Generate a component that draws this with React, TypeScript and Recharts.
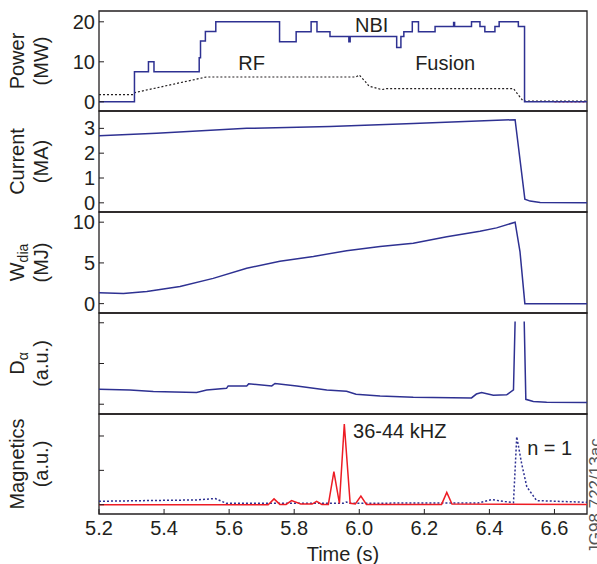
import { LineChart, Line, XAxis, YAxis, ReferenceArea, ReferenceDot } from 'recharts'

const FONT = '"Liberation Sans", Arial, Helvetica, sans-serif'
const INK = '#231f20'
const NAVY = '#2e3192'
const RED = '#ed1c24'

// time axis (s)
const timeTicks = [5.2, 5.4, 5.6, 5.8, 6.0, 6.2, 6.4, 6.6]
const timeDomain: [number, number] = [5.2, 6.7]

// Power panel (MW)
const nbiT = [5.2, 5.309, 5.352, 5.369, 5.508, 5.512, 5.527, 5.559, 5.755, 5.806, 5.852, 5.87, 5.91, 5.968, 5.972, 6.115, 6.128, 6.137, 6.163, 6.182, 6.233, 6.29, 6.293, 6.345, 6.371, 6.386, 6.417, 6.43, 6.489, 6.508, 6.7]
const nbiP = [0, 7.5, 10, 7.5, 11, 15.2, 17.6, 20, 15, 17.5, 20, 17.5, 16.3, 15, 16.3, 13.6, 16.3, 17.5, 20, 17.5, 18.8, 19.8, 18.8, 20, 18.8, 17.5, 18.8, 20, 18.8, 0, 0]
const rfT = [5.2, 5.305, 5.31, 5.53, 5.99, 6.0, 6.02, 6.03, 6.069, 6.084, 6.474, 6.49, 6.504, 6.7]
const rfP = [1.8, 1.8, 2.3, 6.2, 6.2, 6.7, 4.9, 3.9, 3.05, 3.3, 3.3, 1.6, 0.15, 0.15]
const fusionT = [6.6, 6.7]
const fusionP = [0, 0]

// Current (MA)
const curT = [5.2, 5.377, 5.654, 5.91, 6.166, 6.479, 6.509, 6.525, 6.556, 6.7]
const curI = [2.7, 2.8, 3.0, 3.08, 3.2, 3.35, 0.15, 0.07, 0.01, 0]

// W_dia (MJ)
const wT = [5.2, 5.275, 5.347, 5.398, 5.449, 5.551, 5.654, 5.756, 5.859, 5.961, 6.064, 6.166, 6.269, 6.371, 6.422, 6.479, 6.494, 6.509, 6.7]
const wE = [1.35, 1.23, 1.48, 1.8, 2.1, 3.1, 4.35, 5.2, 5.8, 6.5, 7.0, 7.4, 8.2, 8.9, 9.3, 10.0, 6.4, 0, 0]

// D-alpha (a.u.)
const daT = [5.2, 5.295, 5.367, 5.5, 5.531, 5.592, 5.597, 5.654, 5.66, 5.731, 5.741, 5.808, 5.9, 5.961, 5.99, 6.064, 6.166, 6.345, 6.36, 6.376, 6.412, 6.453, 6.474, 6.479, 6.49, 6.507, 6.512, 6.535, 6.576, 6.7]
const daV: (number | null)[] = [0.37, 0.35, 0.31, 0.29, 0.35, 0.39, 0.45, 0.45, 0.5, 0.45, 0.51, 0.45, 0.35, 0.32, 0.245, 0.2, 0.17, 0.155, 0.25, 0.29, 0.22, 0.23, 0.35, 2.03, null, 2.03, 0.12, 0.065, 0.05, 0.04]

// Magnetics (a.u.)
const tae4T = [5.2, 5.72, 5.738, 5.756, 5.775, 5.792, 5.82, 5.855, 5.869, 5.885, 5.905, 5.922, 5.939, 5.954, 5.972, 5.988, 6.005, 6.022, 6.253, 6.269, 6.285, 6.7]
const tae4V = [0, 0, 0.17, 0.01, 0.01, 0.12, 0.02, 0.02, 0.1, 0.01, 0.01, 0.96, 0.04, 2.35, 0.04, 0.02, 0.25, 0.01, 0.01, 0.36, 0.02, 0.01]
const n1T = [5.2, 5.347, 5.5, 5.557, 5.592, 5.756, 5.95, 5.96, 5.97, 6.166, 6.365, 6.407, 6.448, 6.474, 6.484, 6.499, 6.515, 6.545, 6.7]
const n1V = [0.1, 0.12, 0.14, 0.18, 0.04, 0.04, 0.04, 0.08, 0.04, 0.05, 0.05, 0.15, 0.09, 0.06, 1.98, 1.2, 0.52, 0.12, 0.07]

const zip = (t: number[], v: (number | null)[]) => t.map((x, i) => ({ t: x, v: v[i] }))

type Series = {
  key: string
  data: { t: number; v: number | null }[]
  color: string
  dash?: string
  step?: boolean
  width?: number
}

type Note = { x: number; y: number; text: string; anchor?: 'center' | 'right' }

const AxisTitle = ({ viewBox, main, sub, unit }: any) => {
  const cy = viewBox.y + viewBox.height / 2
  const common = { textAnchor: 'middle' as const, dominantBaseline: 'central' as const, fill: INK, fontSize: 20, fontFamily: FONT }
  return (
    <g>
      <text transform={`translate(17,${cy}) rotate(-90)`} {...common}>
        {main}
        {sub && <tspan fontSize={14} dy={6}>{sub}</tspan>}
      </text>
      <text transform={`translate(41,${cy}) rotate(-90)`} {...common}>{unit}</text>
    </g>
  )
}

function Panel({
  top,
  bottom,
  domain,
  ticks,
  labels = true,
  title,
  series,
  notes = [],
  last = false
}: {
  top: number
  bottom: number
  domain: [number, number]
  ticks: number[]
  labels?: boolean
  title: { main: string; sub?: string; unit: string }
  series: Series[]
  notes?: Note[]
  last?: boolean
}) {
  const axisH = last ? 50 : 0
  const height = bottom - top + 10 + (last ? axisH : 10)
  return (
    <div style={{ position: 'absolute', left: 0, top: top - 10 }}>
      <LineChart width={597} height={height} margin={{ top: 10, right: 10, bottom: last ? 0 : 10, left: 0 }}>
        <XAxis
          type="number"
          dataKey="t"
          domain={timeDomain}
          allowDataOverflow
          ticks={timeTicks}
          interval={0}
          hide={!last}
          height={axisH}
          axisLine={false}
          tickSize={-5}
          tickMargin={12}
          tickLine={{ stroke: INK }}
          tick={{ fill: INK, fontSize: 20, fontFamily: FONT }}
          tickFormatter={(v: number) => v.toFixed(1)}
          label={last ? { value: 'Time (s)', position: 'insideBottom', offset: 3, fill: INK, fontSize: 20, fontFamily: FONT } : undefined}
        />
        <YAxis
          type="number"
          width={99}
          domain={domain}
          allowDataOverflow
          ticks={ticks}
          interval={0}
          axisLine={false}
          tickSize={-5}
          tickMargin={9}
          tickLine={{ stroke: INK }}
          tick={{ fill: INK, fontSize: 20, fontFamily: FONT }}
          tickFormatter={(v: number) => (labels ? String(v) : '')}
          label={(p: any) => <AxisTitle {...p} {...title} />}
        />
        <ReferenceArea
          x1={timeDomain[0]}
          x2={timeDomain[1]}
          y1={domain[0]}
          y2={domain[1]}
          fill="none"
          stroke={INK}
          strokeWidth={1.3}
          ifOverflow="visible"
        />
        {series.map((s) => (
          <Line
            key={s.key}
            data={s.data}
            dataKey="v"
            type={s.step ? 'stepAfter' : 'linear'}
            stroke={s.color}
            strokeWidth={s.width ?? 1.5}
            strokeDasharray={s.dash}
            dot={false}
            activeDot={false}
            connectNulls={false}
            isAnimationActive={false}
          />
        ))}
        {notes.map((n) => (
          <ReferenceDot
            key={n.text}
            x={n.x}
            y={n.y}
            r={0}
            fill="none"
            stroke="none"
            label={{ value: n.text, position: n.anchor ?? 'center', offset: 0, fill: INK, fontSize: 20, fontFamily: FONT }}
          />
        ))}
      </LineChart>
    </div>
  )
}

export default function App() {
  return (
    <div style={{ position: 'absolute', left: 0, top: 0, width: 597, height: 564, background: '#fff', overflow: 'hidden' }}>
      <Panel
        top={11}
        bottom={111}
        domain={[-2.3, 22.7]}
        ticks={[0, 10, 20]}
        title={{ main: 'Power', unit: '(MW)' }}
        series={[
          { key: 'fusion', data: zip(fusionT, fusionP), color: RED, dash: '2 2', width: 1.2 },
          { key: 'rf', data: zip(rfT, rfP), color: INK, dash: '2 2', width: 1.2 },
          { key: 'nbi', data: zip(nbiT, nbiP), color: NAVY, step: true }
        ]}
        notes={[
          { x: 6.038, y: 19.25, text: 'NBI' },
          { x: 5.669, y: 9.75, text: 'RF' },
          { x: 6.264, y: 9.75, text: 'Fusion' }
        ]}
      />
      <Panel
        top={111}
        bottom={212}
        domain={[-0.37, 3.7]}
        ticks={[0, 1, 2, 3]}
        title={{ main: 'Current', unit: '(MA)' }}
        series={[{ key: 'ip', data: zip(curT, curI), color: NAVY }]}
      />
      <Panel
        top={212}
        bottom={313}
        domain={[-1.15, 11.25]}
        ticks={[0, 5, 10]}
        title={{ main: 'W', sub: 'dia', unit: '(MJ)' }}
        series={[{ key: 'wdia', data: zip(wT, wE), color: NAVY }]}
      />
      <Panel
        top={313}
        bottom={414}
        domain={[-0.24, 2.24]}
        ticks={[0, 1, 2]}
        labels={false}
        title={{ main: 'D', sub: 'α', unit: '(a.u.)' }}
        series={[{ key: 'da', data: zip(daT, daV), color: NAVY }]}
      />
      <Panel
        top={414}
        bottom={514}
        domain={[-0.27, 2.64]}
        ticks={[0, 1, 2]}
        labels={false}
        last
        title={{ main: 'Magnetics', unit: '(a.u.)' }}
        series={[
          { key: 'n1', data: zip(n1T, n1V), color: NAVY, dash: '2 2' },
          { key: 'tae', data: zip(tae4T, tae4V), color: RED }
        ]}
        notes={[
          { x: 5.981, y: 2.16, text: '36-44 kHZ', anchor: 'right' },
          { x: 6.516, y: 1.65, text: 'n = 1', anchor: 'right' }
        ]}
      />
      <svg width={20} height={140} style={{ position: 'absolute', left: 585, top: 424 }}>
        <text
          transform="translate(10,72) rotate(-90)"
          textAnchor="middle"
          dominantBaseline="central"
          fill="#555"
          fontSize={17}
          fontFamily={FONT}
        >
          JG98.722/13ac
        </text>
      </svg>
    </div>
  )
}
